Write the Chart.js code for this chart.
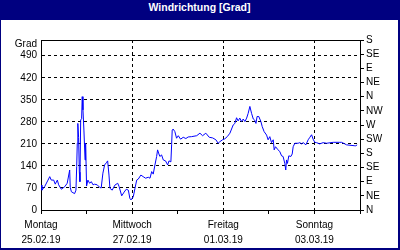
<!DOCTYPE html>
<html>
<head>
<meta charset="utf-8">
<script src="https://cdn.jsdelivr.net/npm/chart.js@4"></script>
<style>
body { margin: 0; background: #fff; }
#frame {
    position: absolute; left: 0; top: 0;
    width: 400px; height: 250px;
    box-sizing: border-box;
    border: 1px solid #000080;
    border-right-width: 2px;
    border-bottom-width: 2px;
    background: #fff;
}
#title {
    height: 19px; line-height: 17px;
    background: #000080; color: #fff;
    font: bold 10.5px "Liberation Sans", sans-serif;
    text-align: center;
}
#box { position: relative; width: 397px; height: 228px; }
</style>
</head>
<body>
<div id="frame">
    <div id="title">Windrichtung [Grad]</div>
    <div id="box"><canvas id="myChart"></canvas></div>
</div>
<script>
// hours since Monday 25.02.19 00:00
const hours = [0,0.5,1.9,3.7,4.6,5.4,6.7,7.5,8.6,9.3,10.7,12.5,13.8,15.1,15.4,16,17.7,18.4,18.8,19.1,19.4,19.8,20.2,20.5,20.9,21.4,21.7,22.1,22.6,23.2,23.5,24,24.7,25.6,26.5,27.4,28.2,29.6,30.9,31.7,32.6,33.5,34.4,35.1,35.8,36.3,37.5,38.9,40.4,41.1,42.5,43.8,44.9,46,46.8,47.4,48.6,49.5,50.4,51.2,52.6,53.8,55.1,56.5,57.4,58.3,59.1,60,60.9,61.4,62.1,62.6,63.5,64.4,65.6,66.7,67.4,68.4,68.8,69.1,69.6,70.5,71.4,72.3,73.5,74.9,76.3,77.5,79.3,82,83.7,85.1,86.8,88.6,90.4,92.1,93.3,94.2,95.6,96.8,98.1,99.5,101.2,102.1,103,103.8,104.7,105.6,106.5,107.4,108.3,109.1,110,110.9,111.8,112.6,113.2,113.8,114.7,115.8,116.5,117.5,118.8,119.6,120.5,121.4,122.3,122.8,123.5,124.6,125.8,126.7,127.5,128.4,128.9,129.3,129.8,130.5,131.6,132.3,132.8,133.7,135.4,136.3,137.2,138.1,139.5,140.7,141.6,142.5,143.3,144.2,145.1,146.8,148.6,150.4,153.9,157.4,158.3,160,160.9,165.3,165.8,166.5]
const windDeg = [79,63,74,95,106,95,95,82,95,80,66,74,85,127,72,58,52,63,138,212,275,230,120,90,286,290,360,318,254,159,212,76,95,85,90,80,82,80,72,70,117,143,150,156,111,69,63,79,85,75,45,57,66,63,37,32,42,69,95,98,111,106,101,104,101,122,114,143,170,191,178,170,175,159,156,143,156,153,207,254,257,249,228,236,225,231,227,232,233,236,244,236,244,231,229,223,212,217,223,226,233,244,270,275,293,283,292,281,289,281,292,307,329,307,289,285,275,297,297,281,265,249,238,223,233,214,223,191,201,193,185,172,170,148,127,159,148,172,170,178,201,212,212,214,210,214,207,223,231,239,225,215,214,210,214,212,215,215,215,210,207,204,204,207,201]

const leftTicks = [0,70,140,210,280,350,420,490]
const rightTicks = [0,45,90,135,180,225,270,315,360,405,450,495,540]
const rightLabels = ['N','NE','E','SE','S','SW','W','NW','N','NE','E','SE','S']
const dayTicks = [0,24,48,72,96,120,144,168]
const dayLabels = [['Montag','25.02.19'],'',['Mittwoch','27.02.19'],'',['Freitag','01.03.19'],'',['Sonntag','03.03.19'],'']

const font = {family: '"Liberation Sans", sans-serif', size: 10}
const ink = '#000'
var ctx = document.getElementById('myChart').getContext('2d');

// top edge of the plot frame
const topLine = {
    id: 'topLine',
    afterDraw(chart){
        const a = chart.chartArea
        const c = chart.ctx
        const y = Math.round(a.top) + 0.5
        c.save()
        c.strokeStyle = ink
        c.lineWidth = 1
        c.beginPath()
        c.moveTo(a.left, y)
        c.lineTo(a.right, y)
        c.stroke()
        c.restore()
    }
}

new Chart(ctx, {
    type: 'line',
    data: {
        datasets: [{
            data: hours.map((h, i) => ({x: h, y: windDeg[i]})),
            borderColor: '#0000ff',
            borderWidth: 1,
            pointRadius: 0,
            tension: 0,
            fill: false,
            yAxisID: 'y'
        }]
    },
    options: {
        responsive: true,
        maintainAspectRatio: false,
        animation: false,
        layout: {padding: {top: 20, left: 0, right: 0, bottom: 0}},
        plugins: {legend: {display: false}, tooltip: {enabled: false}},
        scales: {
            x: {
                type: 'linear', min: 0, max: 168,
                afterBuildTicks: s => { s.ticks = dayTicks.map(v => ({value: v})) },
                afterFit: s => { s.height = 38 },
                ticks: {
                    autoSkip: false, maxRotation: 0, padding: 4, color: ink,
                    font: {family: font.family, size: 10, lineHeight: 1.5},
                    callback: (v) => dayLabels[dayTicks.indexOf(v)]
                },
                grid: {
                    color: c => (c.tick && c.tick.value % 48 === 0 && c.tick.value > 0 && c.tick.value < 168) ? ink : 'rgba(0,0,0,0)',
                    tickColor: ink, tickLength: 4, drawTicks: true
                },
                border: {color: ink, width: 1, dash: [3, 3]}
            },
            y: {
                position: 'left', min: 0, max: 540,
                afterBuildTicks: s => { s.ticks = leftTicks.concat([525]).map(v => ({value: v})) },
                afterFit: s => { s.width = 40 },
                ticks: {
                    autoSkip: false, padding: 4, color: ink, font: font,
                    callback: v => v === 525 ? 'Grad' : v
                },
                grid: {
                    color: c => (c.tick && c.tick.value > 0 && c.tick.value < 525) ? ink : 'rgba(0,0,0,0)',
                    drawTicks: false
                },
                border: {color: ink, width: 1, dash: [3, 3]}
            },
            y2: {
                position: 'right', min: 0, max: 540,
                afterBuildTicks: s => { s.ticks = rightTicks.map(v => ({value: v})) },
                afterFit: s => { s.width = 38 },
                ticks: {
                    autoSkip: false, padding: 2, color: ink, font: font,
                    callback: v => rightLabels[rightTicks.indexOf(v)]
                },
                grid: {drawOnChartArea: false, drawTicks: true, tickLength: 4, tickColor: ink},
                border: {color: ink, width: 1}
            }
        }
    },
    plugins: [topLine]
});
</script>
</body>
</html>
